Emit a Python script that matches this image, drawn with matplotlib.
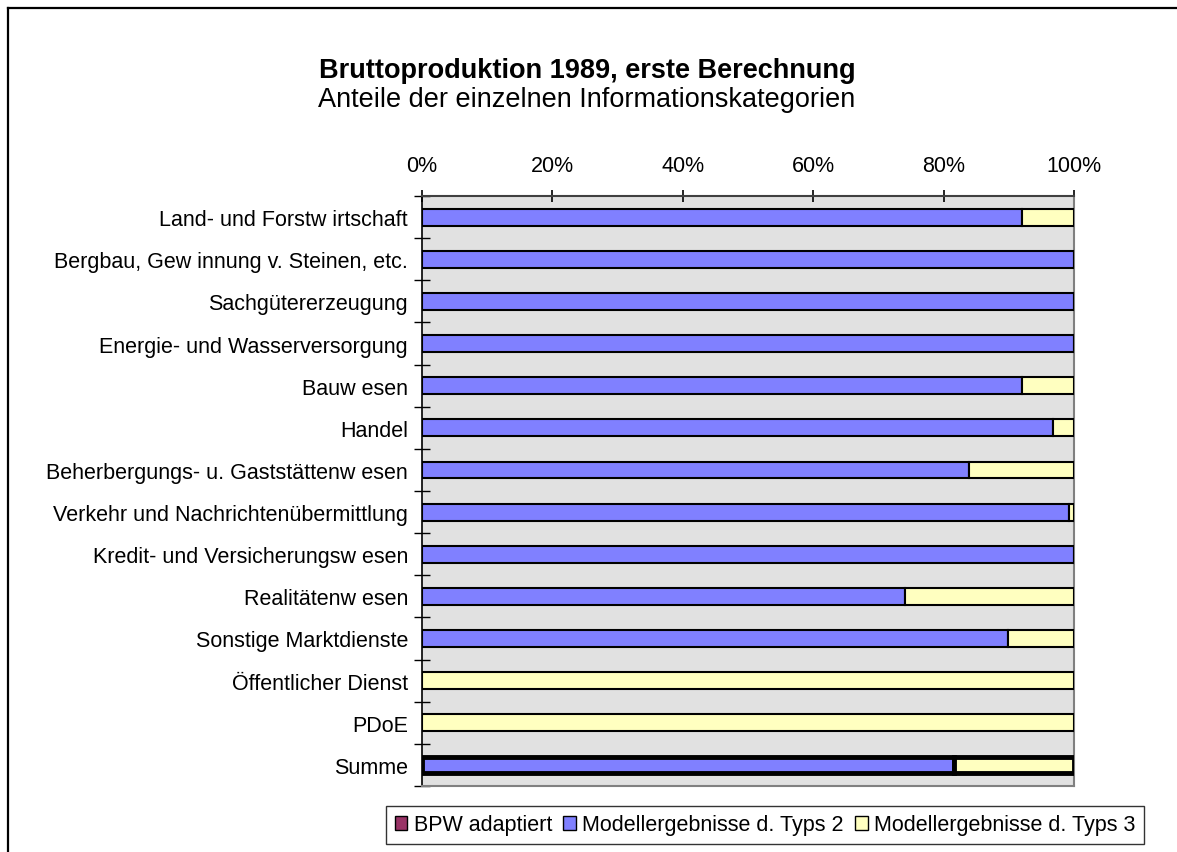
import matplotlib
matplotlib.use("Agg")
import matplotlib.pyplot as plt
from matplotlib.patches import Patch
from matplotlib.lines import Line2D
import numpy as np

plt.rcParams['font.family'] = ['Liberation Sans', 'DejaVu Sans']

categories = [
    "Land- und Forstw irtschaft",
    "Bergbau, Gew innung v. Steinen, etc.",
    "Sachgütererzeugung",
    "Energie- und Wasserversorgung",
    "Bauw esen",
    "Handel",
    "Beherbergungs- u. Gaststättenw esen",
    "Verkehr und Nachrichtenübermittlung",
    "Kredit- und Versicherungsw esen",
    "Realitätenw esen",
    "Sonstige Marktdienste",
    "Öffentlicher Dienst",
    "PDoE",
    "Summe",
]
bpw_adaptiert = [0, 0, 0, 0, 0, 0, 0, 0, 0, 0, 0, 0, 0, 0]
typ2 = [92.0, 100, 100, 100, 92.0, 96.8, 83.9, 99.2, 100, 74.1, 89.9, 0, 0, 81.6]
typ3 = [8.0, 0, 0, 0, 8.0, 3.2, 16.1, 0.8, 0, 25.9, 10.1, 100, 100, 18.4]
series_names = ["BPW adaptiert", "Modellergebnisse d. Typs 2", "Modellergebnisse d. Typs 3"]
colors = ["#993366", "#8080FF", "#FFFFC0"]
xticks = [0, 20, 40, 60, 80, 100]
xticklabels = ["0%", "20%", "40%", "60%", "80%", "100%"]

W, H = 1177, 853
fig = plt.figure(figsize=(W / 100, H / 100), dpi=100)
ax = fig.add_axes([422 / W, 1 - 787 / H, (1074 - 422) / W, (787 - 197) / H])
ax.set_facecolor("#E1E1E1")

y = np.arange(len(categories))
left = np.zeros(len(categories))
for vals, col in zip([bpw_adaptiert, typ2, typ3], colors):
    v = np.array(vals, dtype=float)
    lw = [3.5 if c == "Summe" else 1.5 for c in categories]
    ax.barh(y, v, left=left, height=0.4, color=col, edgecolor="black",
            linewidth=lw, zorder=3)
    left = left + v

ax.set_xlim(0, 100)
ax.set_ylim(len(categories) - 0.5, -0.5)

ax.xaxis.tick_top()
ax.set_xticks(xticks)
ax.set_xticklabels(xticklabels, fontsize=15.5)
ax.tick_params(axis="x", direction="inout", length=9, width=1.2, pad=10, colors="black")

ax.set_yticks(np.arange(len(categories) + 1) - 0.5)
ax.set_yticklabels([])
ax.set_yticks(y, minor=True)
ax.set_yticklabels(categories, minor=True, fontsize=15.5)
ax.tick_params(axis="y", which="major", direction="inout", length=12, width=1.0)
ax.tick_params(axis="y", which="minor", length=0, pad=10)

ax.spines["left"].set_color("black")
ax.spines["left"].set_linewidth(1.2)
ax.spines["top"].set_color("#404040")
ax.spines["top"].set_linewidth(1.5)
ax.spines["right"].set_color("#808080")
ax.spines["right"].set_linewidth(1.5)
ax.spines["bottom"].set_color("#808080")
ax.spines["bottom"].set_linewidth(1.5)

fig.text(587 / W, 1 - 71 / H, "Bruttoproduktion 1989, erste Berechnung",
         ha="center", va="center", fontsize=19.5, fontweight="bold")
fig.text(587 / W, 1 - 100 / H, "Anteile der einzelnen Informationskategorien",
         ha="center", va="center", fontsize=19.5)

handles = [Patch(facecolor=c, edgecolor="black", linewidth=1.0) for c in colors]
leg = fig.legend(handles, series_names, ncol=3, loc="center",
                 bbox_to_anchor=(765 / W, 1 - 826 / H), fontsize=15.5,
                 frameon=True, fancybox=False, edgecolor="black",
                 handlelength=0.6, handleheight=0.6, handletextpad=0.3,
                 columnspacing=0.5, borderpad=0.4, borderaxespad=0)
leg.get_frame().set_linewidth(1.0)

# outer chart border (only left and top visible)
fig.add_artist(Line2D([8 / W, 8 / W], [1 - 9 / H, 0], color="black", lw=1.6,
                      transform=fig.transFigure))
fig.add_artist(Line2D([8 / W, 1], [1 - 9 / H, 1 - 9 / H], color="black", lw=1.6,
                      transform=fig.transFigure))

fig.savefig("out.png", dpi=100)
